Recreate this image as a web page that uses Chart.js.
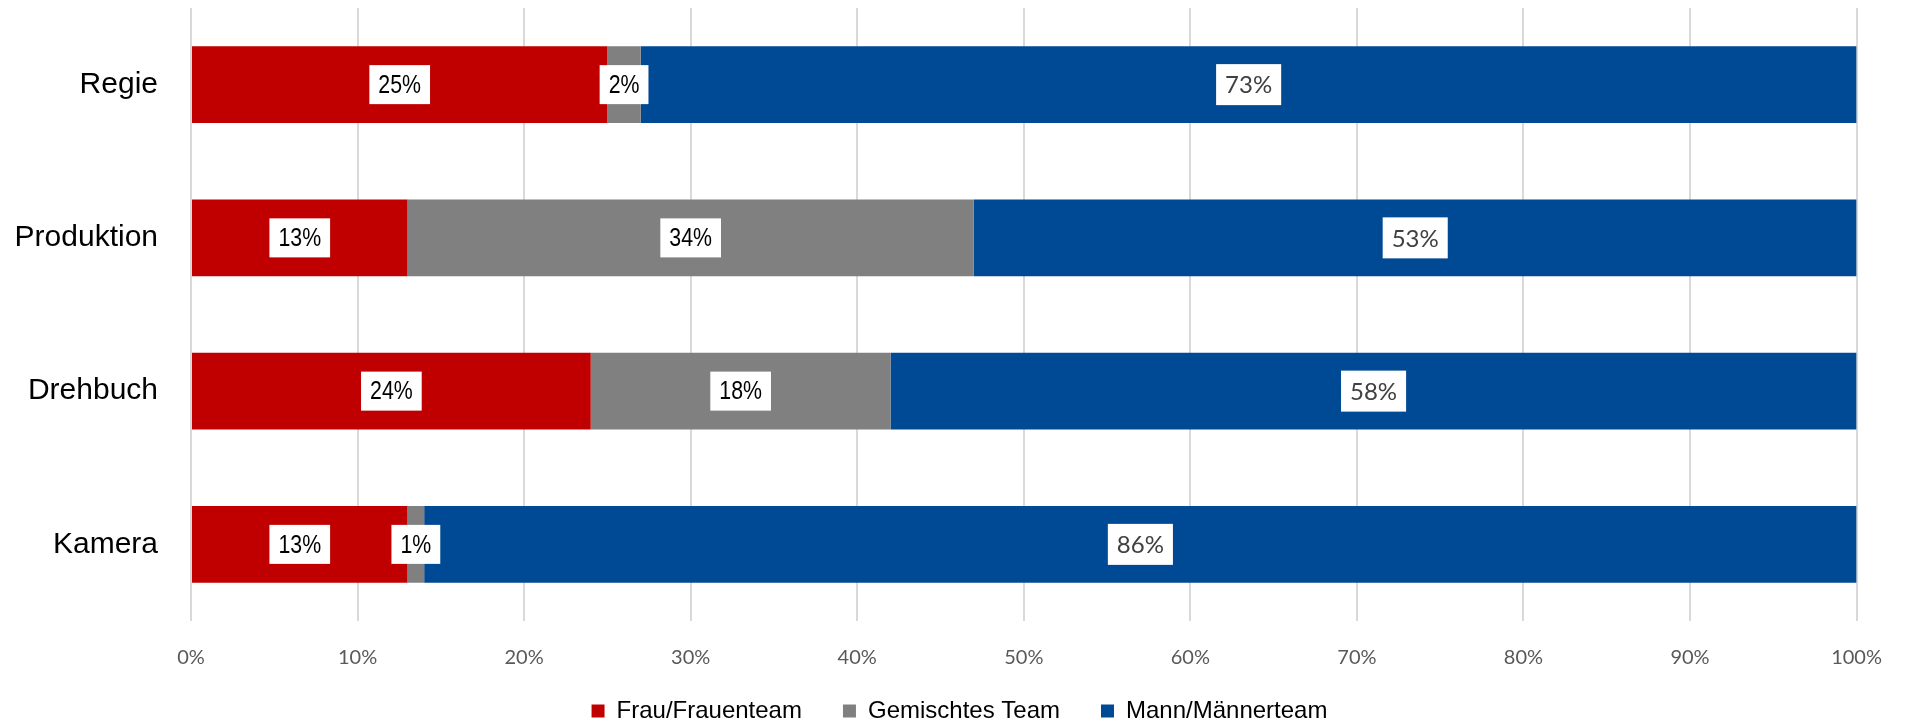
<!DOCTYPE html>
<html>
<head>
<meta charset="utf-8">
<script src="https://cdn.jsdelivr.net/npm/chart.js@4/dist/chart.umd.min.js"></script>
<style>
  html, body { margin: 0; padding: 0; background: #fff; overflow: hidden; }
  #wrap { width: 1907px; height: 723px; position: relative; }
</style>
</head>
<body>
<div id="wrap"><canvas id="teamChart"></canvas></div>
<script>
// Werte aus der Grafik (Prozent)
const categories = ['Regie', 'Produktion', 'Drehbuch', 'Kamera'];
const seriesNames = ['Frau/Frauenteam', 'Gemischtes Team', 'Mann/Männerteam'];
const frauValues = [25, 13, 24, 13];
const gemischtValues = [2, 34, 18, 1];
const mannValues = [73, 53, 58, 86];
const xTicks = [0, 10, 20, 30, 40, 50, 60, 70, 80, 90, 100];

const arialLike = '"Liberation Sans", Arial, sans-serif';
const calibriLike = 'Lato, "Open Sans", sans-serif';

// Beschriftungen in weißen Kästchen mitten im Balken
const boxLabels = {
    id: 'boxLabels',
    afterDatasetsDraw(chart) {
        const ctx = chart.ctx;
        chart.data.datasets.forEach((ds, i) => {
            const meta = chart.getDatasetMeta(i);
            const blue = i === 2;
            const squeeze = blue ? 1 : 0.82; // schmale Schrift nachahmen
            ctx.save();
            ctx.font = blue ? '24px ' + calibriLike : '26px ' + arialLike;
            ctx.textAlign = 'center';
            ctx.textBaseline = 'middle';
            meta.data.forEach((bar, j) => {
                const text = ds.data[j] + '%';
                const cx = (bar.x + bar.base) / 2;
                const cy = bar.y;
                const w = ctx.measureText(text).width * squeeze + 18;
                const h = blue ? 41 : 39;
                ctx.fillStyle = '#ffffff';
                ctx.fillRect(cx - w / 2, cy - h / 2, w, h);
                ctx.fillStyle = blue ? '#404040' : '#000000';
                ctx.save();
                ctx.translate(cx, cy + 1);
                ctx.scale(squeeze, 1);
                ctx.fillText(text, 0, 0);
                ctx.restore();
            });
            ctx.restore();
        });
    }
};

// Legende über die ganze Breite zentrieren und nach oben schieben
const placeLegend = {
    id: 'placeLegend',
    afterLayout(chart) {
        const lg = chart.legend;
        const h = lg.height;
        lg.left = 6;
        lg.right = chart.width + 6;
        lg.width = chart.width;
        lg.top = 658;
        lg.bottom = 658 + h;
    }
};

const ctx = document.getElementById('teamChart').getContext('2d');

new Chart(ctx, {
    type: 'bar',
    data: {
        labels: categories,
        datasets: [
            { label: seriesNames[0], data: frauValues, backgroundColor: '#C00000' },
            { label: seriesNames[1], data: gemischtValues, backgroundColor: '#808080' },
            { label: seriesNames[2], data: mannValues, backgroundColor: '#004994' }
        ]
    },
    options: {
        indexAxis: 'y',
        responsive: true,
        maintainAspectRatio: false,
        animation: false,
        barPercentage: 0.5,
        categoryPercentage: 1.0,
        layout: { padding: { top: 8, right: 49, left: 0, bottom: -42 } },
        plugins: {
            legend: {
                position: 'bottom',
                labels: {
                    color: '#000',
                    font: { family: arialLike, size: 24 },
                    boxWidth: 13,
                    boxHeight: 13,
                    padding: 41
                }
            },
            tooltip: { enabled: false }
        },
        scales: {
            x: {
                stacked: true,
                min: 0,
                max: 100,
                afterBuildTicks(scale) {
                    scale.ticks = xTicks.map(v => ({ value: v }));
                },
                afterFit(scale) { scale.height = 69; },
                grid: { color: '#d9d9d9', lineWidth: 2, drawTicks: false },
                border: { display: false },
                ticks: {
                    color: '#595959',
                    font: { family: calibriLike, size: 20 },
                    padding: 25,
                    maxRotation: 0,
                    callback: v => v + '%'
                }
            },
            y: {
                stacked: true,
                afterFit(scale) { scale.width = 191; },
                grid: { display: false, drawTicks: true, tickLength: 43 },
                border: { display: false },
                ticks: {
                    color: '#000',
                    font: { family: arialLike, size: 30 },
                    padding: -10
                }
            }
        }
    },
    plugins: [boxLabels, placeLegend]
});
</script>
</body>
</html>
